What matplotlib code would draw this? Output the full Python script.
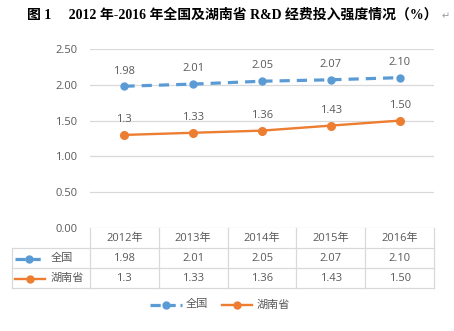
import matplotlib.pyplot as plt
from matplotlib.lines import Line2D

plt.rcParams['font.family'] = ['Open Sans', 'Noto Sans CJK SC', 'DejaVu Sans']

years = ['2012年', '2013年', '2014年', '2015年', '2016年']
national = [1.98, 2.01, 2.05, 2.07, 2.10]
hunan = [1.30, 1.33, 1.36, 1.43, 1.50]
national_labels = ['1.98', '2.01', '2.05', '2.07', '2.10']
hunan_labels = ['1.3', '1.33', '1.36', '1.43', '1.50']
series_names = ['全国', '湖南省']

W, H = 454, 331
blue = '#5B9BD5'
orange = '#ED7D31'
txt = '#595959'
grid = '#D9D9D9'
fs = 8

fig = plt.figure(figsize=(W / 100, H / 100), dpi=100)

def fx(px):
    return px / W

def fy(py):
    return 1 - py / H

x0, x1, ytop, ybot = 90, 434, 49, 228
ax = fig.add_axes([fx(x0), fy(ybot), fx(x1) - fx(x0), fy(ytop) - fy(ybot)])
ax.set_xlim(-0.5, len(years) - 0.5)
ax.set_ylim(0, 2.5)
ax.set_yticks([0, 0.5, 1.0, 1.5, 2.0, 2.5])
ax.set_yticklabels(['%.2f' % v for v in [0, 0.5, 1.0, 1.5, 2.0, 2.5]])
ax.set_xticks([])
ax.tick_params(axis='y', length=0, labelsize=fs, labelcolor=txt, pad=9)
for s in ax.spines.values():
    s.set_visible(False)
ax.grid(axis='y', color=grid, lw=0.9)
ax.set_axisbelow(True)

xs = range(len(years))
ax.plot(xs, national, color=blue, lw=2.3, ls=(0, (3.2, 2.2)), marker='o', ms=5, zorder=3)
ax.plot(xs, hunan, color=orange, lw=1.7, marker='o', ms=5.5, zorder=3)
for x, v, l in zip(xs, national, national_labels):
    ax.annotate(l, (x, v), xytext=(0, 7), textcoords='offset points',
                ha='center', va='bottom', fontsize=fs, color=txt)
for x, v, l in zip(xs, hunan, hunan_labels):
    ax.annotate(l, (x, v), xytext=(0, 7), textcoords='offset points',
                ha='center', va='bottom', fontsize=fs, color=txt)

# data table under the plot
rows = [228, 248, 268, 288]
tl = 12
colw = (x1 - x0) / len(years)
for y in rows[1:]:
    fig.add_artist(Line2D([fx(tl), fx(x1)], [fy(y), fy(y)], color=grid, lw=0.9))
fig.add_artist(Line2D([fx(tl), fx(tl)], [fy(248), fy(288)], color=grid, lw=0.9))
for k in range(len(years) + 1):
    xx = x0 + k * colw
    fig.add_artist(Line2D([fx(xx), fx(xx)], [fy(228), fy(288)], color=grid, lw=0.9))
for k, yr in enumerate(years):
    cx = x0 + (k + 0.5) * colw
    fig.text(fx(cx), fy(238.5), yr, ha='center', va='center', fontsize=fs, color=txt)
    fig.text(fx(cx), fy(258.5), national_labels[k], ha='center', va='center', fontsize=fs, color=txt)
    fig.text(fx(cx), fy(278.5), hunan_labels[k], ha='center', va='center', fontsize=fs, color=txt)

def legend_key(xa, xb, y, color, dashed):
    if dashed:
        fig.add_artist(Line2D([fx(xa), fx(xb)], [fy(y), fy(y)], color=color, lw=2.3,
                              ls=(0, (3.2, 1.5))))
    else:
        fig.add_artist(Line2D([fx(xa), fx(xb)], [fy(y), fy(y)], color=color, lw=1.7))
    xm = (xa + xb) / 2
    fig.add_artist(Line2D([fx(xm)], [fy(y)], color=color, marker='o', ms=5, lw=0))

legend_key(15, 43, 258.5, blue, True)
fig.text(fx(51), fy(258.5), series_names[0], ha='left', va='center', fontsize=fs, color=txt)
legend_key(15, 45, 278.5, orange, False)
fig.text(fx(51), fy(278.5), series_names[1], ha='left', va='center', fontsize=fs, color=txt)

legend_key(150, 182, 305, blue, True)
fig.text(fx(186), fy(305), series_names[0], ha='left', va='center', fontsize=fs, color=txt)
legend_key(222, 252, 305, orange, False)
fig.text(fx(257), fy(305), series_names[1], ha='left', va='center', fontsize=fs, color=txt)

fig.text(fx(232), fy(15), '图 1\u3000 2012 年-2016 年全国及湖南省 R&D 经费投入强度情况（%）',
         ha='center', va='center', fontsize=10, fontweight='bold', color='black',
         family=['Liberation Serif', 'Noto Sans CJK SC'])
fig.text(fx(446), fy(16), '↵', ha='center', va='center', fontsize=7, color='#999999',
         family=['DejaVu Sans'])

fig.savefig('out.png', dpi=100)
